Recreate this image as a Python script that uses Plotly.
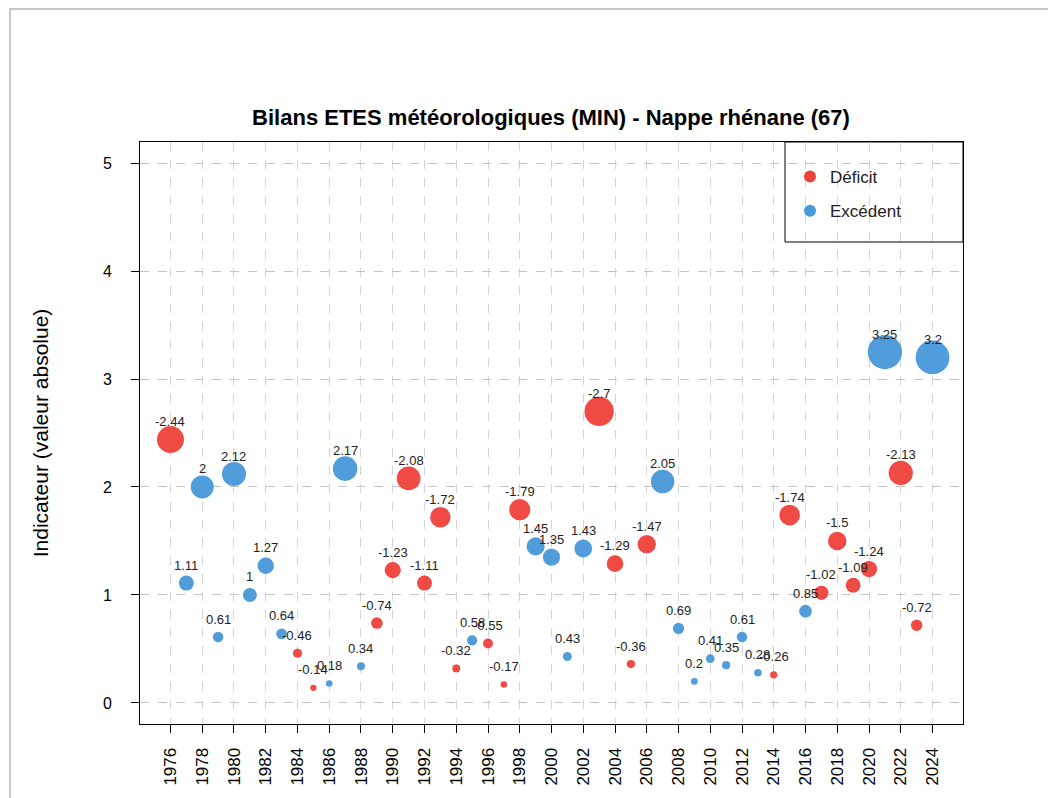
import plotly.graph_objects as go

years = list(range(1976, 2025))
values = [-2.44, 1.11, 2, 0.61, 2.12, 1, 1.27, 0.64, -0.46, -0.14,
          0.18, 2.17, 0.34, -0.74, -1.23, -2.08, -1.11, -1.72, -0.32, 0.58,
          -0.55, -0.17, -1.79, 1.45, 1.35, 0.43, 1.43, -2.7, -1.29, -0.36,
          -1.47, 2.05, 0.69, 0.2, 0.41, 0.35, 0.61, 0.28, -0.26, -1.74,
          0.85, -1.02, -1.5, -1.09, -1.24, 3.25, -2.13, -0.72, 3.2]
tick_years = list(range(1976, 2025, 2))
y_ticks = [0, 1, 2, 3, 4, 5]

RED = "rgb(238,64,58)"
BLUE = "rgb(72,152,218)"
FONT = "Liberation Sans, Arial, sans-serif"

W, H = 1056, 798
L, R, T, B = 132, 101, 134, 82
pw, ph = W - L - R, H - T - B

fig = go.Figure()

def add_group(sign_neg, color, name):
    xs = [y for y, v in zip(years, values) if (v < 0) == sign_neg]
    vs = [abs(v) for v in values if (v < 0) == sign_neg]
    fig.add_trace(go.Scatter(
        x=xs, y=vs, mode="markers", showlegend=False, hoverinfo="skip",
        marker=dict(color=color, size=[5 + 9 * v for v in vs], line=dict(width=0), opacity=0.95)))
    fig.add_trace(go.Scatter(
        x=[None], y=[None], mode="markers", name=name, legendgroup=name,
        marker=dict(color=color, size=8)))

add_group(True, RED, "Déficit")
add_group(False, BLUE, "Excédent")

for yr, v in zip(years, values):
    fig.add_annotation(x=yr, y=abs(v), text=f"{v:g}", showarrow=False,
                       yshift=18, font=dict(family=FONT, size=13, color="#222"))

# legend box
fig.add_shape(type="rect", xref="paper", yref="paper",
              x0=(777 - L) / pw, x1=1.0, y0=(H - B - 234) / ph, y1=1.0,
              line=dict(color="black", width=1), fillcolor="white", layer="below")
# outer frame
fig.add_shape(type="rect", xref="paper", yref="paper",
              x0=(2 - L) / pw, x1=(1200 - L) / pw, y0=-1.0, y1=1 + (T - 1) / ph,
              line=dict(color="#c8c8c8", width=2), layer="below")

fig.update_layout(
    width=W, height=H,
    margin=dict(l=L, r=R, t=T, b=B),
    paper_bgcolor="white", plot_bgcolor="rgba(0,0,0,0)",
    font=dict(family=FONT, color="black"),
    title=dict(text="<b>Bilans ETES météorologiques (MIN) - Nappe rhénane (67)</b>",
               x=543 / W, xanchor="center", y=1 - 109 / H, yanchor="middle",
               font=dict(family=FONT, size=22, color="black")),
    showlegend=True,
    legend=dict(x=(782 - L) / pw, xanchor="left", y=(H - B - 151) / ph, yanchor="top",
                bgcolor="rgba(0,0,0,0)", borderwidth=0, tracegroupgap=9,
                font=dict(family=FONT, size=17, color="#222"), itemsizing="constant"),
    xaxis=dict(range=[1974.08, 2025.92], tickmode="array", tickvals=tick_years,
               ticktext=[str(t) for t in tick_years], tickangle=-90,
               ticks="outside", ticklen=8, tickcolor="black", tickwidth=1,
               ticklabelstandoff=8,
               tickfont=dict(family=FONT, size=17, color="black"),
               showgrid=True, gridcolor="#d4d4d4", griddash="dash", gridwidth=1,
               showline=True, linecolor="black", linewidth=1, mirror=True,
               zeroline=False),
    yaxis=dict(range=[-0.195, 5.195], tickmode="array", tickvals=y_ticks,
               ticks="outside", ticklen=8, tickcolor="black", tickwidth=1,
               ticklabelstandoff=16,
               tickfont=dict(family=FONT, size=16, color="black"),
               showgrid=True, gridcolor="#c4c4c4", griddash="dash", gridwidth=1,
               showline=True, linecolor="black", linewidth=1, mirror=True,
               zeroline=False,
               title=dict(text="Indicateur (valeur absolue)", standoff=48,
                          font=dict(family=FONT, size=21, color="black"))),
)

fig.write_html("out.html")
